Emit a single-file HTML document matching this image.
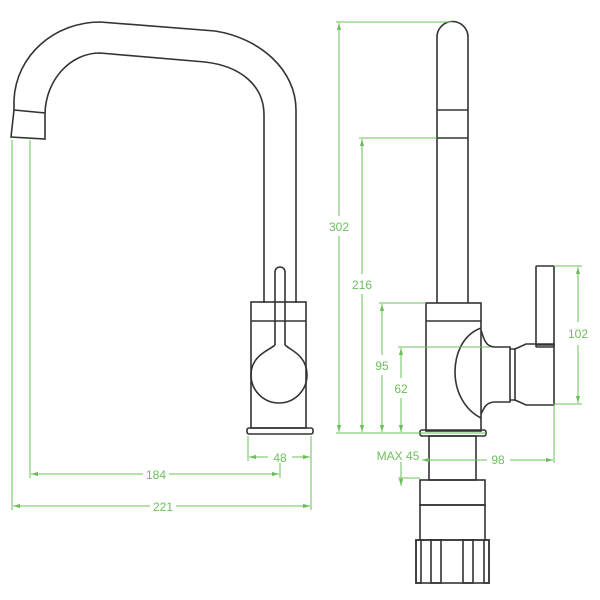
<!DOCTYPE html>
<html><head><style>body{margin:0;background:#fff}svg{display:block}</style></head><body>
<svg width="600" height="600" viewBox="0 0 600 600" xmlns="http://www.w3.org/2000/svg">
<defs>
<marker id="a" viewBox="0 0 10 10" refX="10" refY="5" markerWidth="7" markerHeight="7" orient="auto-start-reverse"><path d="M0,2 L10,5 L0,8z" fill="#6cbf5c"/></marker>
</defs>
<g fill="none" stroke="#333" stroke-width="1.6">
<path d="M14,110 L14,100 C16,55 55,22 100,22 L215,31 C260,38 296,70 296,110 L296,303"/>
<path d="M45,113 C46,80 70,53 100,53 L205,62 C240,66 264,85 264,115 L264,303"/>
<path d="M14,110 L45,113 L45,139 L11,137 Z"/>
<rect x="251" y="302" width="55" height="126"/>
<line x1="251" y1="321" x2="306" y2="321"/>
<path d="M275,345 L275,272 A5,5 0 0 1 285,272 L285,345"/>
<path d="M275,345 C270,350 251,355 251,375 A28,28 0 0 0 307,375 C307,355 290,350 285,345"/>
<rect x="247" y="428" width="66" height="6" rx="2"/>
<path d="M437,303 L437,37 A15.5,15.5 0 0 1 468,37 L468,303"/>
<line x1="437" y1="110" x2="468" y2="110"/>
<line x1="437" y1="138" x2="468" y2="138"/>
<rect x="426" y="303" width="55" height="128"/>
<line x1="426" y1="321" x2="481" y2="321"/>
<path d="M481,328 C462,335 455,355 455,372 C455,392 465,410 481,418"/>
<path d="M481,330 C484,340 486,347 495,347 L510,347 L510,402 L495,402 C486,402 484,408 481,414"/>
<path d="M510,349 L515,349 L515,400 L510,400"/>
<path d="M515,349 L526,344 L554,344 L554,405 L526,405 L515,400"/>
<rect x="536" y="266" width="18" height="81" rx="1"/>
<line x1="536" y1="345" x2="554" y2="345"/>
<rect x="420" y="430" width="66" height="6" rx="2"/>
<rect x="429" y="436" width="47" height="44"/>
<rect x="420" y="480" width="65" height="25"/>
<rect x="420" y="505" width="65" height="35"/>
<rect x="416" y="540" width="73" height="43"/>
<rect x="416" y="540" width="5" height="43"/>
<rect x="431" y="540" width="10" height="43"/>
<rect x="463" y="540" width="10" height="43"/>
<rect x="484" y="540" width="5" height="43"/>
</g>
<g stroke="#6cbf5c" stroke-width="1" fill="none">
<line x1="12" y1="140" x2="12" y2="510"/>
<line x1="30" y1="140" x2="30" y2="478"/>
<line x1="280" y1="463" x2="280" y2="478"/>
<line x1="248" y1="436" x2="248" y2="461"/>
<line x1="311" y1="436" x2="311" y2="510"/>
<line x1="31" y1="474" x2="143" y2="474" marker-start="url(#a)"/>
<line x1="169" y1="474" x2="279" y2="474" marker-end="url(#a)"/>
<line x1="249" y1="457" x2="268" y2="457" marker-start="url(#a)"/>
<line x1="292" y1="457" x2="310" y2="457" marker-end="url(#a)"/>
<line x1="13" y1="506" x2="150" y2="506" marker-start="url(#a)"/>
<line x1="176" y1="506" x2="310" y2="506" marker-end="url(#a)"/>
<line x1="336" y1="22" x2="452" y2="22"/>
<line x1="359" y1="138" x2="437" y2="138"/>
<line x1="379" y1="303" x2="426" y2="303"/>
<line x1="398" y1="347" x2="490" y2="347"/>
<line x1="336" y1="433" x2="486" y2="433"/>
<line x1="339" y1="23" x2="339" y2="216" marker-start="url(#a)"/>
<line x1="339" y1="236" x2="339" y2="432" marker-end="url(#a)"/>
<line x1="362" y1="139" x2="362" y2="274" marker-start="url(#a)"/>
<line x1="362" y1="294" x2="362" y2="432" marker-end="url(#a)"/>
<line x1="382" y1="304" x2="382" y2="355" marker-start="url(#a)"/>
<line x1="382" y1="375" x2="382" y2="432" marker-end="url(#a)"/>
<line x1="401" y1="348" x2="401" y2="378" marker-start="url(#a)"/>
<line x1="401" y1="398" x2="401" y2="432" marker-end="url(#a)"/>
<line x1="401" y1="462" x2="401" y2="486" marker-end="url(#a)"/>
<line x1="398" y1="478" x2="420" y2="478"/>
<line x1="554" y1="266" x2="582" y2="266"/>
<line x1="554" y1="404" x2="582" y2="404"/>
<line x1="578" y1="267" x2="578" y2="322" marker-start="url(#a)"/>
<line x1="578" y1="345" x2="578" y2="403" marker-end="url(#a)"/>
<line x1="554" y1="404" x2="554" y2="463"/>
<line x1="422" y1="460" x2="487" y2="460" marker-start="url(#a)"/>
<line x1="510" y1="460" x2="553" y2="460" marker-end="url(#a)"/>
</g>
<g fill="#6cbf5c" font-family="Liberation Sans, sans-serif" font-size="12" text-anchor="middle">
<text x="156" y="479">184</text>
<text x="280" y="462">48</text>
<text x="163" y="511">221</text>
<text x="339" y="231">302</text>
<text x="362" y="289">216</text>
<text x="382" y="370">95</text>
<text x="401" y="393">62</text>
<text x="398" y="460">MAX 45</text>
<text x="498" y="464">98</text>
<text x="578" y="338">102</text>
</g>
</svg>
</body></html>
